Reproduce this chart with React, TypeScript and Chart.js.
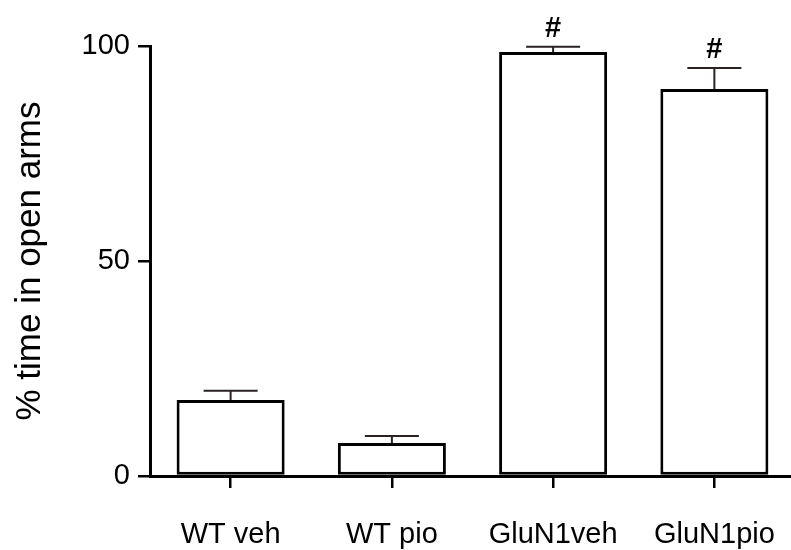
import React, { useEffect, useRef } from "react";
import { Chart, registerables } from "chart.js";

Chart.register(...registerables);

// Group names along the x axis
const groups = ["WT veh", "WT pio", "GluN1veh", "GluN1pio"];
// Mean % time spent in the open arms
const meanValues = [17.7, 7.7, 98.6, 90.0];
// Upper end of the SEM error bar for each group
const semUpper = [19.8, 9.3, 99.8, 94.9];
// Significance marks drawn above each group
const sigMarks = ["", "", "#", "#"];
// Y-axis tick values
const yTicks = [0, 50, 100];

const FONT = "'Liberation Sans', Arial, Helvetica, sans-serif";
const INK = "#000000";

const errorBarPlugin = {
  id: "errorBars",
  afterDatasetsDraw(chart: any) {
    const { ctx, scales } = chart;
    const yScale = scales.y;
    const meta = chart.getDatasetMeta(0);
    ctx.save();
    meta.data.forEach((bar: any, i: number) => {
      const x = bar.x;
      const yMean = yScale.getPixelForValue(meanValues[i]);
      const yHigh = yScale.getPixelForValue(semUpper[i]);
      const capHalf = bar.width * 0.25;
      ctx.strokeStyle = "#2b2222";
      ctx.lineWidth = 2;
      ctx.beginPath();
      ctx.moveTo(x, yMean);
      ctx.lineTo(x, yHigh);
      ctx.moveTo(x - capHalf, yHigh);
      ctx.lineTo(x + capHalf, yHigh);
      ctx.stroke();
      if (sigMarks[i]) {
        ctx.fillStyle = INK;
        ctx.font = `bold 29px ${FONT}`;
        ctx.textAlign = "center";
        ctx.textBaseline = "alphabetic";
        ctx.fillText(sigMarks[i], x, yHigh - 10);
      }
    });
    ctx.restore();
  },
};

export default function App() {
  const canvasRef = useRef<HTMLCanvasElement | null>(null);

  useEffect(() => {
    document.body.style.margin = "0";
    const canvas = canvasRef.current;
    if (!canvas) return;
    const chart = new Chart(canvas, {
      type: "bar",
      data: {
        labels: groups,
        datasets: [
          {
            data: meanValues,
            backgroundColor: "#ffffff",
            borderColor: INK,
            borderWidth: 3,
            borderSkipped: false,
            barPercentage: 0.67,
            categoryPercentage: 1,
          },
        ],
      },
      options: {
        responsive: false,
        animation: false,
        devicePixelRatio: 1,
        layout: { padding: { top: 46, left: 0, right: 0, bottom: 0 } },
        plugins: {
          legend: { display: false },
          tooltip: { enabled: false },
        },
        scales: {
          x: {
            offset: true,
            grid: {
              offset: false,
              drawOnChartArea: false,
              drawTicks: true,
              tickLength: 12,
              lineWidth: 2.5,
              color: INK,
            },
            border: { display: true, color: INK, width: 3 },
            ticks: {
              color: INK,
              font: { family: FONT, size: 29 },
              padding: 30,
              maxRotation: 0,
            },
            afterFit(scale: any) {
              scale.height = 74;
              // labels sit well inside the category bands, no side padding needed
              scale.paddingLeft = 0;
              scale.paddingRight = 0;
            },
          },
          y: {
            min: 0,
            max: 100,
            afterBuildTicks(scale: any) {
              scale.ticks = yTicks.map((v) => ({ value: v }));
            },
            grid: {
              drawOnChartArea: false,
              drawTicks: true,
              tickLength: 12,
              lineWidth: 2.5,
              color: INK,
            },
            border: { display: true, color: INK, width: 3 },
            ticks: {
              color: INK,
              font: { family: FONT, size: 29 },
              padding: 8,
            },
            title: {
              display: true,
              text: "% time in open arms",
              color: INK,
              font: { family: FONT, size: 35 },
              padding: { top: 9, bottom: 0 },
            },
            afterFit(scale: any) {
              scale.width = 150;
            },
          },
        },
      },
      plugins: [errorBarPlugin],
    });
    return () => chart.destroy();
  }, []);

  return (
    <div
      style={{
        position: "absolute",
        left: 0,
        top: 0,
        width: 791,
        height: 550,
        overflow: "hidden",
        background: "#ffffff",
      }}
    >
      <canvas ref={canvasRef} width={795} height={550} style={{ display: "block" }} />
    </div>
  );
}
